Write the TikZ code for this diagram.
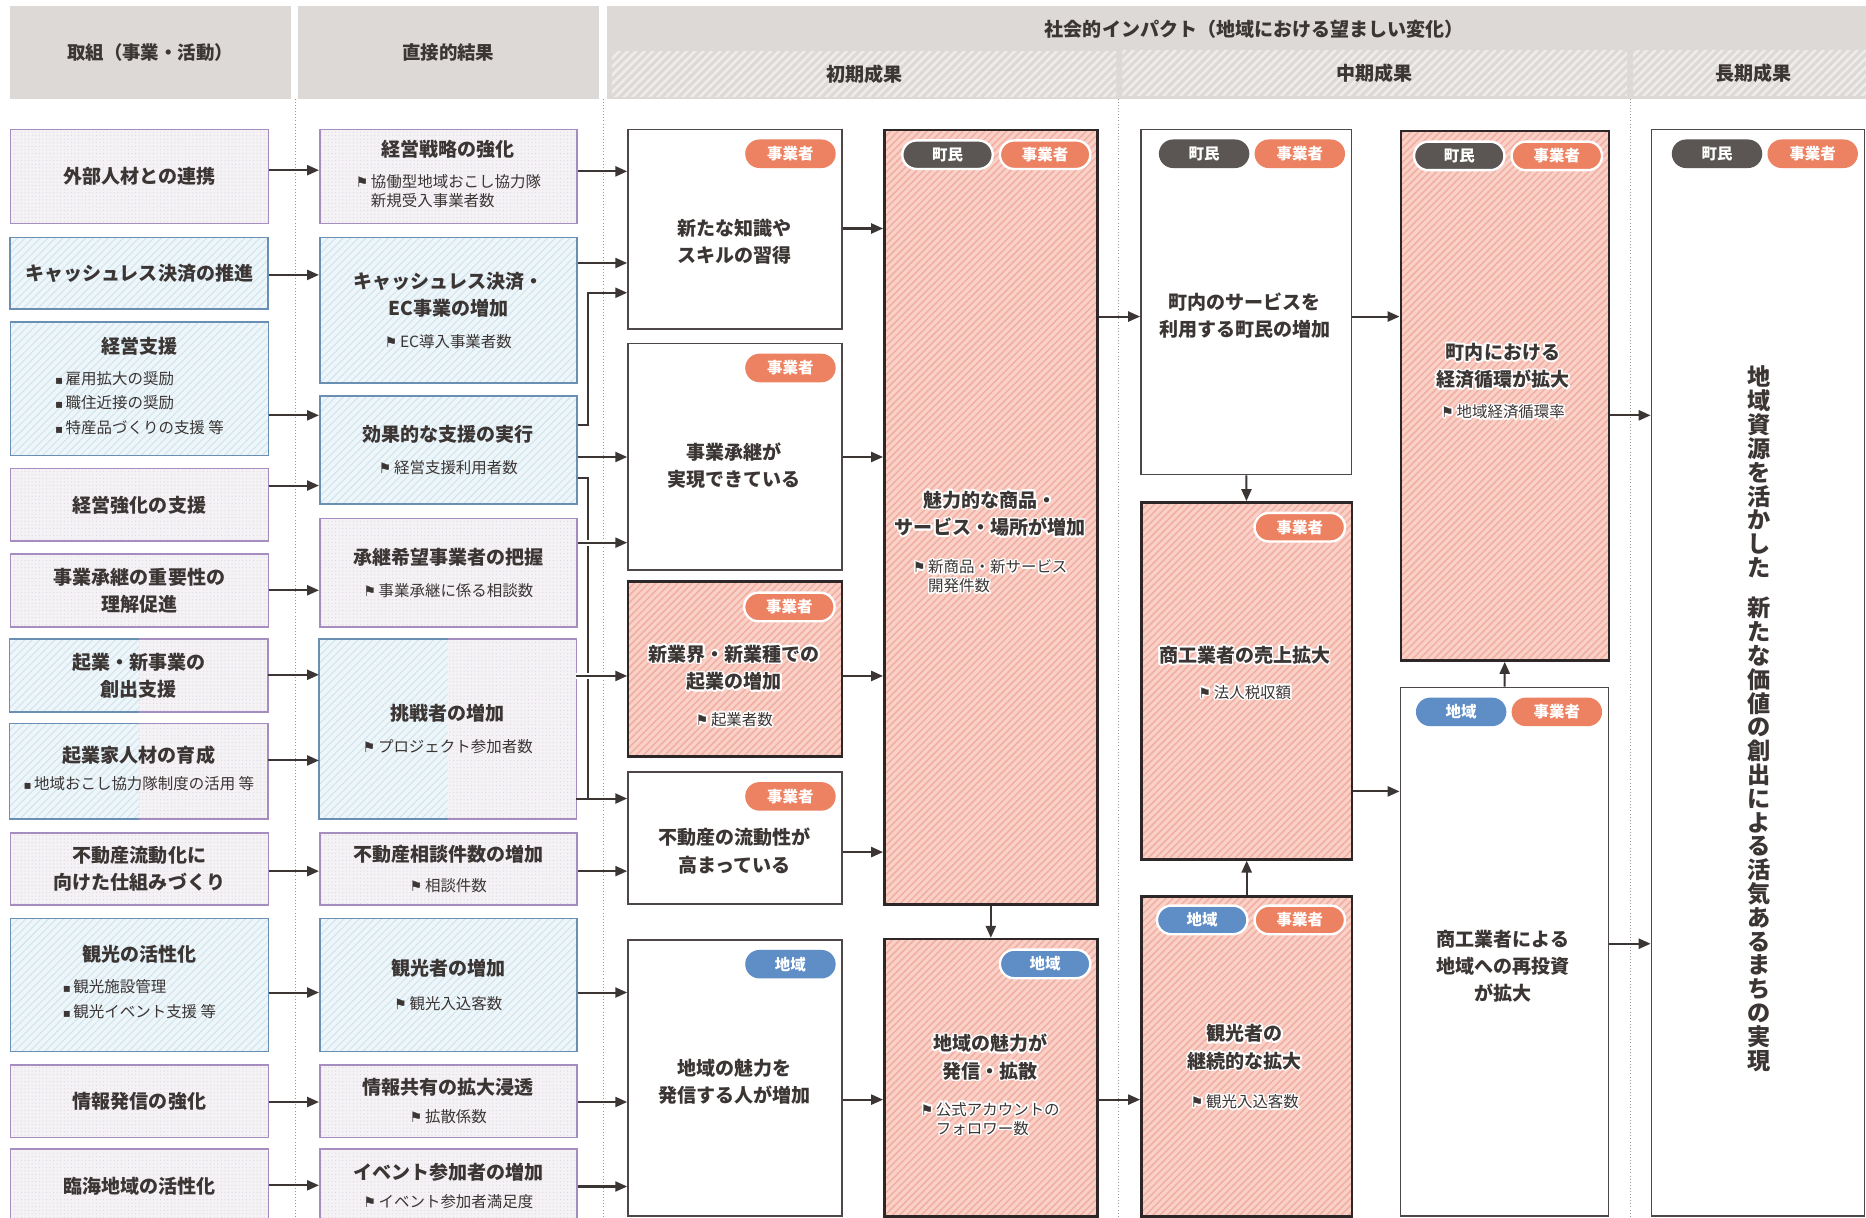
\documentclass[tikz,border=0pt]{standalone}
\usepackage{fontspec}
\setmainfont{Noto Sans CJK JP}
\newfontfamily\symf{DejaVu Sans}
\usepackage{xcolor}
\usepackage{contour}
\contourlength{1.3pt}
\usetikzlibrary{arrows.meta,patterns.meta,positioning}

\definecolor{ink}{HTML}{3B3534}
\definecolor{hdrgray}{HTML}{DCD9D7}
\definecolor{hdrstripe}{HTML}{EEEDEC}
\definecolor{bluebg}{HTML}{EEF6FA}
\definecolor{bluestripe}{HTML}{D0E5EF}
\definecolor{blueline}{HTML}{6B8FB2}
\definecolor{purplebg}{HTML}{F5F2F6}
\definecolor{purpledot}{HTML}{D9D0DD}
\definecolor{purpleline}{HTML}{A58DC0}
\definecolor{pinkbg}{HTML}{F9D1C8}
\definecolor{pinkstripe}{HTML}{F2AEA0}
\definecolor{pinkline}{HTML}{2D2827}
\definecolor{boxgray}{HTML}{4D4847}
\definecolor{bizorange}{HTML}{EC8262}
\definecolor{towngray}{HTML}{5B5654}
\definecolor{areablue}{HTML}{5F8EC6}
\definecolor{guidegray}{HTML}{9A9694}

\newcommand{\flag}{{\symf\fontsize{12}{12}\selectfont ⚑}}
\newcommand{\ind}[1]{{\fontsize{13}{16}\selectfont\mdseries\flag\,#1}}
\newcommand{\indii}[2]{{\fontsize{13}{16}\selectfont\mdseries\flag\,\begin{tabular}[t]{@{}l@{}}#1\\#2\end{tabular}}}
\newcommand{\bul}{{\symf\fontsize{10}{10}\selectfont ▪}\,}
\newcommand{\sublist}[1]{{\fontsize{13}{20.5}\selectfont\mdseries\begin{tabular}[t]{@{}l@{}}#1\end{tabular}}}
\newcommand{\halo}[1]{\contour{white}{#1}}

\begin{document}
\begin{tikzpicture}[x=1pt, y=-1pt,
  >={Triangle[length=10pt,width=8.5pt]},
  link/.style={draw=ink, line width=1.7pt},
  every edge/.style={link, ->},
  halo/.style={preaction={draw=white, line width=5pt, -}},
  guide/.style={draw=guidegray, line width=0.8pt, dash pattern=on 0.8pt off 1.8pt},
  box/.style={anchor=north west, inner sep=2pt, align=center, text=ink,
    font=\fontsize{16}{23}\selectfont\bfseries},
  actblue/.style={box, draw=blueline, line width=1.4pt, preaction={fill=bluebg},
    pattern={Lines[angle=45,distance=4.5pt,line width=0.9pt]}, pattern color=bluestripe},
  actpurple/.style={box, draw=purpleline, line width=1.4pt, preaction={fill=purplebg},
    pattern={Dots[distance=3pt,radius=0.45pt]}, pattern color=purpledot},
  actsplit/.style={box, fill=white, path picture={
    \fill[bluebg] (path picture bounding box.north west) rectangle (path picture bounding box.south);
    \fill[pattern={Lines[angle=45,distance=4.5pt,line width=0.9pt]}, pattern color=bluestripe]
      (path picture bounding box.north west) rectangle (path picture bounding box.south);
    \fill[purplebg] (path picture bounding box.north) rectangle (path picture bounding box.south east);
    \fill[pattern={Dots[distance=3pt,radius=0.45pt]}, pattern color=purpledot]
      (path picture bounding box.north) rectangle (path picture bounding box.south east);}},
  pinkbox/.style={box, draw=pinkline, line width=2.2pt, preaction={fill=pinkbg},
    pattern={Lines[angle=45,distance=4.3pt,line width=1.3pt]}, pattern color=pinkstripe},
  plainbox/.style={box, draw=boxgray, line width=1.4pt, fill=white},
  hdr/.style={anchor=north west, fill=hdrgray, text=ink, font=\fontsize{15.5}{18}\selectfont\bfseries},
  bar/.style={anchor=north west, preaction={fill=hdrgray},
    pattern={Lines[angle=45,distance=5pt,line width=2.2pt]}, pattern color=hdrstripe,
    text=ink, font=\fontsize{16}{18}\selectfont\bfseries},
  lbl/.style={align=center, text=ink, font=\fontsize{16}{23}\selectfont\bfseries},
  tag/.style={rounded corners=12pt, minimum width=76pt, minimum height=24pt, inner sep=0pt,
    text=white, font=\fontsize{13}{13}\selectfont\bfseries},
  biz/.style={tag, fill=bizorange},
  town/.style={tag, fill=towngray},
  area/.style={tag, fill=areablue},
  ring/.style={draw=white, line width=2pt}]

  \useasboundingbox (0,0) rectangle (1568,1023);
  \clip (0,0) rectangle (1568,1023);
  \fill[white] (0,0) rectangle (1568,1023);

  % header
  \node[hdr, minimum width=236, minimum height=78] (H1) at (8,5) {取組（事業・活動）};
  \node[hdr, minimum width=253, minimum height=78] (H2) at (250,5) {直接的結果};
  \node[hdr, minimum width=1070, minimum height=78] (H3) at (510,5) {};
  \node[text=ink, font=\fontsize{16}{18}\selectfont\bfseries] (H3l) at (1054,25)
    {社会的インパクト（地域における望ましい変化）};
  \node[bar, minimum width=424, minimum height=38] (P1) at (513,42) {初期成果};
  \node[bar, minimum width=424, minimum height=38] (P2) at (943,42) {中期成果};
  \node[bar, minimum width=202, minimum height=38] (P3) at (1372,42) {長期成果};

  \draw[guide] (248,83) -- (248,1023);
  \draw[guide] (507,83) -- (507,1023);
  \draw[guide] (940,83) -- (940,1023);
  \draw[guide] (1370,83) -- (1370,1023);

  % activities
  \node[actpurple, minimum width=217, minimum height=79]  (A1)  at (8,108) {外部人材との連携};
  \node[actblue,   minimum width=217, minimum height=60]  (A2)  at (8,199) {キャッシュレス決済の推進};
  \node[actblue,   minimum width=217, minimum height=112] (A3)  at (8,270)
    {経営支援\\[3pt]\sublist{\bul 雇用拡大の奨励\\ \bul 職住近接の奨励\\ \bul 特産品づくりの支援 等}};
  \node[actpurple, minimum width=217, minimum height=61]  (A4)  at (8,393) {経営強化の支援};
  \node[actpurple, minimum width=217, minimum height=61]  (A5)  at (8,465) {事業承継の重要性の\\理解促進};
  \node[actsplit,  minimum width=217, minimum height=61]  (A6)  at (8,537) {起業・新事業の\\創出支援};
  \node[actsplit,  minimum width=217, minimum height=80]  (A7)  at (8,608)
    {起業家人材の育成\\\sublist{\bul 地域おこし協力隊制度の活用 等}};
  \node[actpurple, minimum width=217, minimum height=61]  (A8)  at (8,699) {不動産流動化に\\向けた仕組みづくり};
  \node[actblue,   minimum width=217, minimum height=112] (A9)  at (8,771)
    {観光の活性化\\[3pt]\sublist{\bul 観光施設管理\\ \bul 観光イベント支援 等}};
  \node[actpurple, minimum width=217, minimum height=61]  (A10) at (8,894) {情報発信の強化};
  \node[actpurple, minimum width=217, minimum height=62]  (A11) at (8,965) {臨海地域の活性化};

  % direct results
  \node[actpurple, minimum width=216, minimum height=79]  (B1) at (268,108)
    {経営戦略の強化\\[3pt]\indii{協働型地域おこし協力隊}{新規受入事業者数}};
  \node[actblue,   minimum width=216, minimum height=122] (B2) at (268,199)
    {キャッシュレス決済・\\EC事業の増加\\[4pt]\ind{EC導入事業者数}};
  \node[actblue,   minimum width=216, minimum height=91]  (B3) at (268,332)
    {効果的な支援の実行\\[4pt]\ind{経営支援利用者数}};
  \node[actpurple, minimum width=216, minimum height=91]  (B4) at (268,435)
    {承継希望事業者の把握\\[4pt]\ind{事業承継に係る相談数}};
  \node[actsplit,  minimum width=216, minimum height=151] (B5) at (268,537)
    {挑戦者の増加\\[4pt]\ind{プロジェクト参加者数}};
  \node[actpurple, minimum width=216, minimum height=61]  (B6) at (268,699)
    {不動産相談件数の増加\\[2pt]\ind{相談件数}};
  \node[actblue,   minimum width=216, minimum height=112] (B7) at (268,771)
    {観光者の増加\\[5pt]\ind{観光入込客数}};
  \node[actpurple, minimum width=216, minimum height=61]  (B8) at (268,894)
    {情報共有の拡大浸透\\[1pt]\ind{拡散係数}};
  \node[actpurple, minimum width=216, minimum height=62]  (B9) at (268,965)
    {イベント参加者の増加\\\ind{イベント参加者満足度}};

  \draw[draw=blueline, line width=1.4pt] (A6.north) -- (A6.north west) -- (A6.south west) -- (A6.south);
  \draw[draw=purpleline, line width=1.4pt] (A6.north) -- (A6.north east) -- (A6.south east) -- (A6.south);
  \draw[draw=blueline, line width=1.4pt] (A7.north) -- (A7.north west) -- (A7.south west) -- (A7.south);
  \draw[draw=purpleline, line width=1.4pt] (A7.north) -- (A7.north east) -- (A7.south east) -- (A7.south);
  \draw[draw=blueline, line width=1.4pt] (B5.north) -- (B5.north west) -- (B5.south west) -- (B5.south);
  \draw[draw=purpleline, line width=1.4pt] (B5.north) -- (B5.north east) -- (B5.south east) -- (B5.south);

  % initial outcomes
  \node[plainbox, minimum width=180, minimum height=168] (C1) at (527,108) {};
  \node[plainbox, minimum width=180, minimum height=190] (C2) at (527,288) {};
  \node[pinkbox,  minimum width=180, minimum height=147] (C3) at (527,488) {};
  \node[plainbox, minimum width=180, minimum height=111] (C4) at (527,648) {};
  \node[plainbox, minimum width=180, minimum height=232] (C5) at (527,789) {};
  \node[pinkbox,  minimum width=179, minimum height=651] (D1) at (742,108) {};
  \node[pinkbox,  minimum width=179, minimum height=233] (D2) at (742,788) {};

  \node[lbl] (C1l) at (617,203) {新たな知識や\\スキルの習得};
  \node[lbl] (C2l) at (617,391) {事業承継が\\実現できている};
  \node[lbl] (C3l) at (617,577) {\halo{新業界・新業種での}\\\halo{起業の増加}\\[8pt]\halo{\ind{起業者数}}};
  \node[lbl] (C4l) at (617,715) {不動産の流動性が\\高まっている};
  \node[lbl] (C5l) at (617,909) {地域の魅力を\\発信する人が増加};
  \node[lbl] (D1l) at (832,458) {\halo{魅力的な商品・}\\\halo{サービス・場所が増加}\\[9pt]\halo{\indii{新商品・新サービス}{開発件数}}};
  \node[lbl] (D2l) at (832,914) {\halo{地域の魅力が}\\\halo{発信・拡散}\\[8pt]\halo{\indii{公式アカウントの}{フォロワー数}}};

  % mid-term outcomes
  \node[plainbox, minimum width=177, minimum height=290] (E1) at (958,108) {};
  \node[pinkbox,  minimum width=177, minimum height=300] (E2) at (958,421) {};
  \node[pinkbox,  minimum width=177, minimum height=269] (E3) at (958,752) {};
  \node[pinkbox,  minimum width=175, minimum height=445] (F1) at (1176,109) {};
  \node[plainbox, minimum width=175, minimum height=444] (F2) at (1176,577) {};

  \node[lbl] (E1l) at (1046,265) {町内のサービスを\\利用する町民の増加};
  \node[lbl] (E2l) at (1046,566) {\halo{商工業者の売上拡大}\\[7pt]\halo{\ind{法人税収額}}};
  \node[lbl] (E3l) at (1046,897) {\halo{観光者の}\\\halo{継続的な拡大}\\[10pt]\halo{\ind{観光入込客数}}};
  \node[lbl] (F1l) at (1263,321) {\halo{町内における}\\\halo{経済循環が拡大}\\[3pt]\halo{\ind{地域経済循環率}}};
  \node[lbl] (F2l) at (1263,812) {商工業者による\\地域への再投資\\が拡大};

  % long-term outcome
  \node[plainbox, minimum width=179, minimum height=913] (G) at (1387,108) {};
  \node[lbl, font=\fontsize{19.5}{20}\selectfont\bfseries] (Gl) at (1478,604)
    {地\\域\\資\\源\\を\\活\\か\\し\\た\\[14pt]新\\た\\な\\価\\値\\の\\創\\出\\に\\よ\\る\\活\\気\\あ\\る\\ま\\ち\\の\\実\\現};

  % tags
  \node[biz, below left=9pt and 6pt of C1.north east] (C1biz) {事業者};
  \node[biz, below left=9pt and 6pt of C2.north east] (C2biz) {事業者};
  \node[biz, ring, below left=9pt and 6pt of C3.north east] (C3biz) {事業者};
  \node[biz, below left=9pt and 6pt of C4.north east] (C4biz) {事業者};
  \node[area, below left=9pt and 6pt of C5.north east] (C5area) {地域};
  \node[biz, ring, below left=9pt and 6pt of D1.north east] (D1biz) {事業者};
  \node[town, ring, left=4pt of D1biz] (D1town) {町民};
  \node[area, ring, below left=9pt and 6pt of D2.north east] (D2area) {地域};
  \node[biz, below left=9pt and 6pt of E1.north east] (E1biz) {事業者};
  \node[town, left=4pt of E1biz] (E1town) {町民};
  \node[biz, ring, below left=9pt and 6pt of E2.north east] (E2biz) {事業者};
  \node[biz, ring, below left=8pt and 6pt of E3.north east] (E3biz) {事業者};
  \node[area, ring, left=4pt of E3biz] (E3area) {地域};
  \node[biz, ring, below left=9pt and 6pt of F1.north east] (F1biz) {事業者};
  \node[town, ring, left=4pt of F1biz] (F1town) {町民};
  \node[biz, below left=9pt and 6pt of F2.north east] (F2biz) {事業者};
  \node[area, left=4pt of F2biz] (F2area) {地域};
  \node[biz, below left=9pt and 6pt of G.north east] (Gbiz) {事業者};
  \node[town, left=4pt of Gbiz] (Gtown) {町民};

  % connectors
  \coordinate (bus) at (494,0);
  \draw[link, ->] (B3.east |- 0,357) -| (bus |- 0,246) -- (C1.west |- 0,246);
  \draw[link] (B3.east |- 0,402) -| (bus |- 0,671);

  \path (A1.east |- 0,143)  edge (B1.west |- 0,143)
        (A2.east |- 0,231)  edge (B2.west |- 0,231)
        (A3.east |- 0,349)  edge (B3.west |- 0,349)
        (A4.east |- 0,408)  edge (B3.west |- 0,408)
        (A5.east |- 0,496)  edge (B4.west |- 0,496)
        (A6.east |- 0,567)  edge (B5.west |- 0,567)
        (A7.east |- 0,639)  edge (B5.west |- 0,639)
        (A8.east |- 0,732)  edge (B6.west |- 0,732)
        (A9.east |- 0,834)  edge (B7.west |- 0,834)
        (A10.east |- 0,926) edge (B8.west |- 0,926)
        (A11.east |- 0,996) edge (B9.west |- 0,996);

  \path (B1.east |- 0,144) edge (C1.west |- 0,144)
        (B2.east |- 0,221) edge (C1.west |- 0,221)
        (B3.east |- 0,384) edge (C2.west |- 0,384)
        (B4.east |- 0,456) edge [halo] (C2.west |- 0,456)
        (B5.east |- 0,568) edge [halo] (C3.west |- 0,568)
        (B5.east |- 0,671) edge (C4.west |- 0,671)
        (B6.east |- 0,732) edge (C4.west |- 0,732)
        (B7.east |- 0,834) edge (C5.west |- 0,834)
        (B8.east |- 0,926) edge (C5.west |- 0,926)
        (B9.east |- 0,997) edge (C5.west |- 0,997);

  \path (C1.east |- 0,192) edge (D1.west |- 0,192)
        (C2.east |- 0,384) edge (D1.west |- 0,384)
        (C3.east |- 0,568) edge (D1.west |- 0,568)
        (C4.east |- 0,716) edge (D1.west |- 0,716)
        (C5.east |- 0,924) edge (D2.west |- 0,924)
        (D1) edge (D2)
        (D1.east |- 0,266) edge (E1.west |- 0,266)
        (D2.east |- 0,924) edge (E3.west |- 0,924)
        (E1) edge (E2)
        (E3) edge (E2)
        (E1.east |- 0,266) edge (F1.west |- 0,266)
        (E2.east |- 0,665) edge (F2.west |- 0,665)
        (F2) edge (F1)
        (F1.east |- 0,349) edge (G.west |- 0,349)
        (F2.east |- 0,793) edge (G.west |- 0,793);
\end{tikzpicture}
\end{document}
